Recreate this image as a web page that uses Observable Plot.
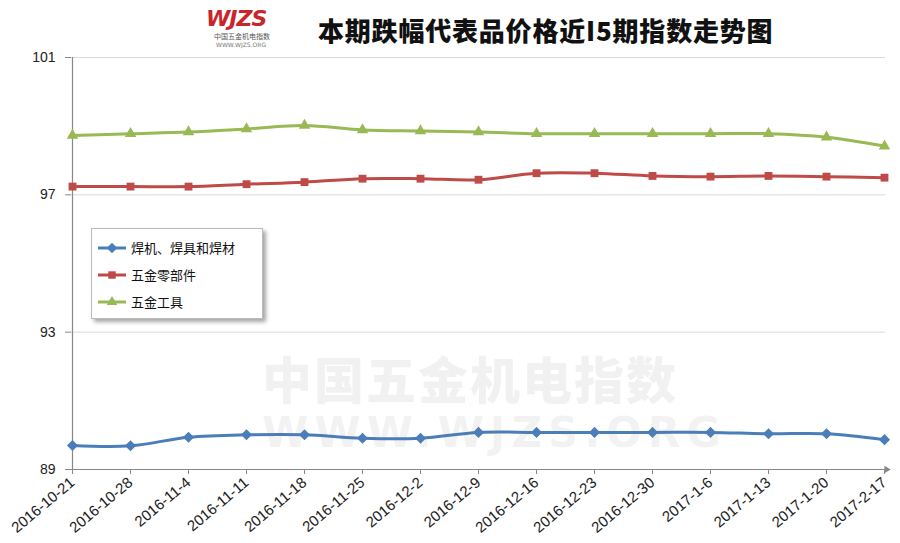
<!DOCTYPE html>
<html>
<head>
<meta charset="utf-8">
<script src="https://cdn.jsdelivr.net/npm/d3@7"></script>
<script src="https://cdn.jsdelivr.net/npm/@observablehq/plot@0.6"></script>
<style>
  html, body { margin: 0; padding: 0; background: #fff; }
  #wrap { position: relative; width: 900px; height: 543px; overflow: hidden; background: #fff; }
  #wrap svg.plot { position: absolute; left: 0; top: 0; }
  .wm { position: absolute; white-space: nowrap; pointer-events: none; line-height: 1; }
  #title { position: absolute; left: 318px; top: 14px; font-family: "Noto Sans CJK SC"; font-weight: 900; font-size: 26px; color: #111; letter-spacing: 0.8px; line-height: 1.2; }
  #logo { position: absolute; left: 202px; top: 2px; width: 90px; height: 48px; }
  #logo div { line-height: 1; white-space: nowrap; }
  #legend { position: absolute; left: 91px; top: 228px; width: 170px; height: 89px; border: 1px solid #bbb; background: #fff; box-shadow: 3px 3px 4px rgba(0,0,0,0.35); font-family: "Noto Sans CJK SC"; font-size: 13px; color: #111; }
  .lg { position: absolute; left: 5px; display: flex; align-items: center; line-height: 1.2; }
  .lg svg { margin-right: 4px; }
</style>
</head>
<body>
<div id="wrap">
  <div class="wm" style="left:262px; top:352px; font-family:'Noto Sans CJK SC'; font-weight:900; font-size:50px; color:rgba(120,120,120,0.10); letter-spacing:2px;">中国五金机电指数</div>
  <div class="wm" style="left:262px; top:412px; font-family:'DejaVu Sans'; font-weight:bold; font-size:42px; color:rgba(120,120,120,0.10); letter-spacing:6px;">WWW.WJZS.ORG</div>
  <div id="chart"></div>
  <div id="logo">
    <div style="position:absolute; left:4px; top:6px; font-family:'DejaVu Sans'; font-weight:bold; font-style:italic; font-size:22px; color:#c8262a; letter-spacing:-1px;">WJZS</div>
    <div style="position:absolute; left:12px; top:31px; font-family:'Noto Sans CJK SC'; font-size:7px; color:#555;">中国五金机电指数</div>
    <div style="position:absolute; left:14px; top:40px; font-family:'DejaVu Sans'; font-size:6px; color:#777;">WWW.WJZS.ORG</div>
  </div>
  <div id="title">本期跌幅代表品价格近I5期指数走势图</div>
  <div id="legend"></div>
</div>
<script>
const dates = ["2016-10-21","2016-10-28","2016-11-4","2016-11-11","2016-11-18","2016-11-25","2016-12-2","2016-12-9","2016-12-16","2016-12-23","2016-12-30","2017-1-6","2017-1-13","2017-1-20","2017-2-17"];
const seriesNames = ["焊机、焊具和焊材", "五金零部件", "五金工具"];
const weld  = [89.70, 89.69, 89.94, 90.01, 90.01, 89.91, 89.91, 90.08, 90.08, 90.08, 90.08, 90.08, 90.04, 90.04, 89.87];
const parts = [97.24, 97.24, 97.24, 97.31, 97.37, 97.47, 97.47, 97.44, 97.63, 97.63, 97.55, 97.53, 97.55, 97.53, 97.50];
const tools = [98.73, 98.78, 98.83, 98.92, 99.02, 98.89, 98.86, 98.83, 98.78, 98.78, 98.78, 98.78, 98.78, 98.68, 98.42];
const yTicks = [89, 93, 97, 101];
const colors = ["#4a7ebb", "#be4b48", "#98b954"];
const symbols = ["diamond2", "square2", "triangle2"];

const values = [weld, parts, tools];
const rows = [];
values.forEach((arr, si) => arr.forEach((v, i) => rows.push({series: seriesNames[si], date: dates[i], v})));

const lineMarks = [];
seriesNames.forEach((name, si) => {
  const data = rows.filter(d => d.series === name);
  lineMarks.push(Plot.line(data, {x: "date", y: "v", stroke: colors[si], strokeWidth: 3, curve: "catmull-rom"}));
  lineMarks.push(Plot.dot(data, {x: "date", y: "v", symbol: () => symbols[si], fill: colors[si], stroke: "none", r: si === 2 ? 5.5 : 5}));
});

const chart = Plot.plot({
  width: 900,
  height: 543,
  marginLeft: 71,
  marginRight: 15,
  marginTop: 57,
  marginBottom: 74,
  style: {background: "transparent", fontFamily: "'Liberation Sans'", fontSize: "14px", color: "#222"},
  x: {type: "point", domain: dates, padding: 0},
  y: {domain: [89, 101]},
  marks: [
    Plot.ruleY(yTicks.filter(t => t !== 89), {stroke: "#d9d9d9", strokeWidth: 1}),
    Plot.ruleY([89], {stroke: "#888", strokeWidth: 1.2}),
    Plot.ruleX([dates[0]], {stroke: "#888", strokeWidth: 1.2}),
    Plot.dot([dates[dates.length - 1]], {x: d => d, y: () => 89, symbol: "triangle2", rotate: 90, r: 3.5, fill: "#888", dx: 2}),
    Plot.axisY({ticks: yTicks, tickSize: 6, tickPadding: 10, stroke: "#888", label: null, fontSize: 14}),
    Plot.axisX({tickSize: 5, tickRotate: -40, tickPadding: 6, stroke: "#888", label: null, fontSize: 15}),
    ...lineMarks
  ]
});
document.getElementById("chart").appendChild(chart);

// Legend
const legend = document.getElementById("legend");
const legendTops = [11, 38, 65];
seriesNames.forEach((name, si) => {
  const div = document.createElement("div");
  div.className = "lg";
  div.style.top = legendTops[si] + "px";
  const sw = d3.create("svg").attr("width", 30).attr("height", 16);
  sw.append("line").attr("x1", 1).attr("x2", 29).attr("y1", 8).attr("y2", 8).attr("stroke", colors[si]).attr("stroke-width", 3);
  const sym = [d3.symbolDiamond2, d3.symbolSquare2, d3.symbolTriangle2][si];
  sw.append("path").attr("d", d3.symbol(sym, si === 2 ? 80 : 70)()).attr("transform", "translate(15,8)").attr("fill", colors[si]);
  div.appendChild(sw.node());
  const span = document.createElement("span");
  span.textContent = name;
  div.appendChild(span);
  legend.appendChild(div);
});
</script>
</body>
</html>
